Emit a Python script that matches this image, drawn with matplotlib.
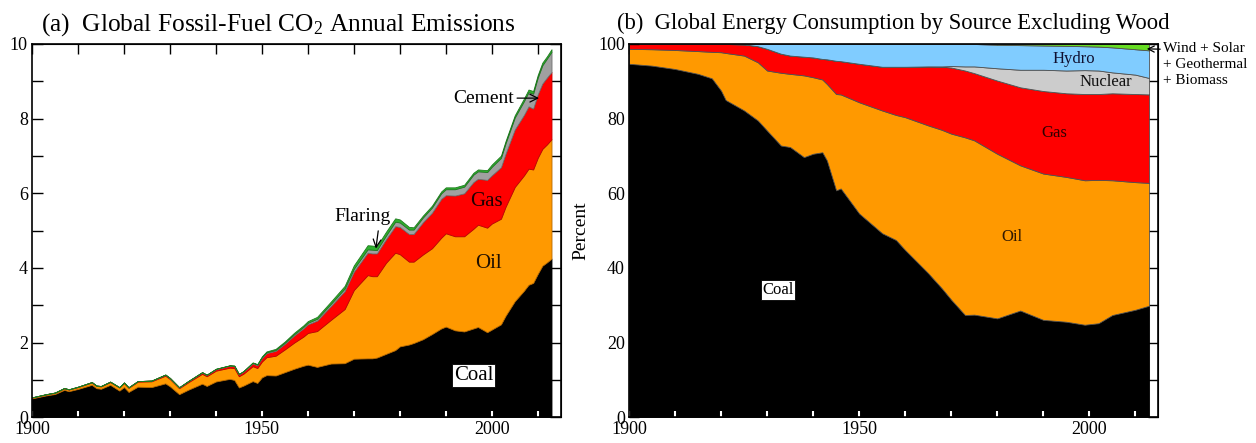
import numpy as np
import matplotlib
matplotlib.use("Agg")
import matplotlib.pyplot as plt
from matplotlib.ticker import MultipleLocator, NullFormatter

plt.rcParams['font.family'] = ['Liberation Serif', 'DejaVu Serif']
plt.rcParams['mathtext.fontset'] = 'custom'
plt.rcParams['mathtext.rm'] = 'Liberation Serif'
plt.rcParams['mathtext.it'] = 'Liberation Serif:italic'

# ---- panel (a): fossil-fuel CO2 emissions (GtC / yr)
years_a = [1900, 1903, 1905, 1907, 1908, 1910, 1913, 1914, 1915, 1917, 1919, 1920,
           1921, 1923, 1926, 1929, 1930, 1932, 1934, 1937, 1938, 1940, 1943, 1944,
           1945, 1946, 1948, 1949, 1950, 1951, 1953, 1955, 1957, 1959, 1960, 1962,
           1965, 1968, 1970, 1973, 1974, 1975, 1977, 1979, 1980, 1982, 1983, 1985,
           1987, 1989, 1990, 1992, 1994, 1996, 1997, 1999, 2000, 2002, 2003, 2005,
           2007, 2008, 2009, 2010, 2011, 2012, 2013]
coal_a = [0.507, 0.585, 0.625, 0.735, 0.700, 0.760, 0.870, 0.780, 0.765, 0.870, 0.715, 0.810,
          0.680, 0.820, 0.810, 0.910, 0.830, 0.620, 0.740, 0.900, 0.840, 0.960, 1.030, 1.000,
          0.800, 0.850, 0.970, 0.920, 1.070, 1.130, 1.120, 1.210, 1.300, 1.380, 1.410, 1.350,
          1.440, 1.450, 1.570, 1.580, 1.580, 1.600, 1.700, 1.800, 1.900, 1.950, 1.990, 2.090,
          2.230, 2.380, 2.430, 2.330, 2.300, 2.380, 2.420, 2.280, 2.350, 2.490, 2.720, 3.110,
          3.390, 3.550, 3.600, 3.840, 4.060, 4.150, 4.250]
oil_a = [0.024, 0.028, 0.033, 0.042, 0.043, 0.050, 0.062, 0.060, 0.062, 0.073, 0.080, 0.108,
         0.110, 0.135, 0.155, 0.205, 0.195, 0.160, 0.200, 0.265, 0.260, 0.290, 0.300, 0.320,
         0.300, 0.320, 0.400, 0.400, 0.423, 0.480, 0.530, 0.610, 0.700, 0.780, 0.850, 0.960,
         1.170, 1.450, 1.840, 2.230, 2.200, 2.180, 2.440, 2.610, 2.470, 2.220, 2.180, 2.270,
         2.300, 2.430, 2.500, 2.520, 2.550, 2.670, 2.740, 2.800, 2.840, 2.830, 2.920, 3.060,
         3.090, 3.110, 3.040, 3.110, 3.130, 3.160, 3.200]
gas_a = [0.003, 0.004, 0.005, 0.007, 0.007, 0.009, 0.011, 0.010, 0.011, 0.012, 0.011, 0.014,
         0.013, 0.015, 0.018, 0.025, 0.024, 0.020, 0.027, 0.036, 0.034, 0.040, 0.050, 0.053,
         0.052, 0.056, 0.075, 0.075, 0.097, 0.110, 0.130, 0.150, 0.190, 0.220, 0.230, 0.280,
         0.370, 0.480, 0.490, 0.600, 0.610, 0.610, 0.630, 0.710, 0.730, 0.740, 0.740, 0.860,
         0.950, 1.040, 1.020, 1.090, 1.150, 1.250, 1.230, 1.280, 1.290, 1.380, 1.420, 1.540,
         1.620, 1.670, 1.630, 1.700, 1.750, 1.790, 1.800]
cement_a = [0, 0, 0, 0, 0, 0, 0, 0, 0, 0, 0, 0,
            0, 0, 0, 0.005, 0.004, 0.005, 0.006, 0.008, 0.008, 0.009, 0.011, 0.010,
            0.008, 0.012, 0.016, 0.016, 0.018, 0.020, 0.024, 0.030, 0.035, 0.040, 0.043, 0.050,
            0.060, 0.070, 0.080, 0.090, 0.100, 0.090, 0.100, 0.120, 0.120, 0.120, 0.120, 0.130,
            0.140, 0.150, 0.160, 0.170, 0.180, 0.200, 0.200, 0.210, 0.230, 0.250, 0.280, 0.320,
            0.370, 0.380, 0.400, 0.450, 0.490, 0.510, 0.540]
flaring_a = [0, 0, 0, 0, 0, 0, 0, 0, 0, 0, 0, 0,
             0, 0, 0, 0, 0, 0, 0, 0, 0, 0, 0, 0,
             0, 0, 0.010, 0.015, 0.023, 0.025, 0.030, 0.033, 0.038, 0.040, 0.045, 0.050,
             0.060, 0.070, 0.090, 0.110, 0.110, 0.100, 0.100, 0.090, 0.080, 0.070, 0.060, 0.050,
             0.050, 0.050, 0.050, 0.050, 0.050, 0.050, 0.050, 0.050, 0.060, 0.060, 0.060, 0.060,
             0.070, 0.070, 0.070, 0.070, 0.070, 0.060, 0.070]

# ---- panel (b): energy consumption shares (percent)
years_b = [1900, 1905, 1910, 1915, 1918, 1920, 1921, 1925, 1928, 1930, 1933, 1935,
           1938, 1940, 1942, 1943, 1945, 1946, 1950, 1955, 1958, 1960, 1965, 1968,
           1970, 1973, 1975, 1980, 1985, 1990, 1995, 1999, 2002, 2005, 2010, 2013]
coal_b = [94.7, 94.2, 93.3, 92.0, 90.8, 87.5, 85.0, 82.2, 79.5, 76.8, 72.8, 72.4,
          69.7, 70.6, 71.0, 68.8, 60.8, 61.3, 54.6, 49.3, 47.5, 44.8, 38.6, 34.5,
          31.5, 27.4, 27.5, 26.5, 28.6, 26.1, 25.6, 24.8, 25.2, 27.4, 28.8, 29.9]
oil_b = [4.0, 4.4, 5.1, 6.1, 7.1, 10.3, 12.6, 14.7, 15.6, 16.1, 19.5, 19.6,
         21.9, 20.5, 19.5, 20.5, 25.8, 25.2, 29.8, 32.9, 33.5, 35.6, 39.6, 42.5,
         44.5, 47.6, 46.7, 44.1, 38.9, 39.2, 38.8, 38.7, 38.4, 36.1, 34.2, 32.9]
gas_b = [1.3, 1.4, 1.6, 1.9, 2.1, 2.2, 2.4, 3.0, 4.3, 5.8, 5.1, 4.9,
         5.0, 5.3, 5.5, 6.6, 8.9, 8.9, 10.3, 11.7, 12.9, 13.5, 15.8, 16.9,
         17.7, 17.9, 18.0, 19.6, 20.9, 22.1, 22.4, 23.1, 23.0, 23.3, 23.6, 23.7]
nuclear_b = [0, 0, 0, 0, 0, 0, 0, 0, 0, 0, 0, 0,
             0, 0, 0, 0, 0, 0, 0, 0, 0, 0, 0, 0.1,
             0.4, 1.1, 1.8, 3.3, 4.7, 5.7, 6.1, 6.4, 6.3, 5.6, 5.2, 4.4]
hydro_b = [0, 0, 0, 0, 0, 0, 0, 0.1, 0.6, 1.3, 2.6, 3.1,
           3.4, 3.6, 4.0, 4.1, 4.5, 4.6, 5.3, 6.1, 6.1, 6.1, 6.0, 6.0,
           5.9, 6.0, 6.0, 6.3, 6.6, 6.5, 6.6, 6.4, 6.4, 6.7, 6.8, 7.4]
other_b = [0, 0, 0, 0, 0, 0, 0, 0, 0, 0, 0, 0,
           0, 0, 0, 0, 0, 0, 0, 0, 0, 0, 0, 0,
           0, 0, 0, 0.2, 0.3, 0.4, 0.5, 0.6, 0.7, 0.9, 1.4, 1.7]

colors_a = ['#000000', '#FF9900', '#FF0000', '#A0A0A0', '#2DB02D']
edges_a = ['#000000', '#B86A00', '#C00000', '#707070', '#1F7A1F']
colors_b = ['#000000', '#FF9900', '#FF0000', '#CCCCCC', '#80CCFF', '#66DD22']

fig = plt.figure(figsize=(12.56, 4.43), dpi=100)
W, H = 1256.0, 443.0
ax1 = fig.add_axes([32 / W, 1 - 417.3 / H, 528.7 / W, 373.3 / H])
ax2 = fig.add_axes([629 / W, 1 - 417.3 / H, 529.3 / W, 373.3 / H])


def style_axes(ax, ymax, ymajor, yminor, ylen):
    ax.set_xlim(1900, 2015)
    ax.set_ylim(0, ymax)
    for s in ax.spines.values():
        s.set_linewidth(1.2)
    ax.xaxis.set_major_locator(MultipleLocator(50))
    ax.xaxis.set_minor_locator(MultipleLocator(10))
    ax.yaxis.set_major_locator(MultipleLocator(ymajor))
    ax.yaxis.set_minor_locator(MultipleLocator(yminor))
    ax.tick_params(axis='x', which='both', direction='in', length=4, width=1.5,
                   color='white', labelsize=13, pad=3)
    ax.tick_params(axis='y', which='both', direction='in', length=ylen, width=1,
                   labelsize=13, pad=3)
    top = ax.secondary_xaxis('top')
    top.xaxis.set_major_locator(MultipleLocator(10))
    top.xaxis.set_major_formatter(NullFormatter())
    top.tick_params(direction='in', length=7, width=1)
    right = ax.secondary_yaxis('right')
    right.yaxis.set_major_locator(MultipleLocator(yminor))
    right.yaxis.set_major_formatter(NullFormatter())
    right.tick_params(direction='in', length=ylen, width=1)


# ---- (a)
polys = ax1.stackplot(years_a, coal_a, oil_a, gas_a, cement_a, flaring_a,
                      colors=colors_a, linewidth=0.6)
for p, ec in zip(polys, edges_a):
    p.set_edgecolor(ec)
style_axes(ax1, 10, 2, 1, 8)
ax1.set_title('(a)  Global Fossil-Fuel CO$_2$ Annual Emissions', fontsize=18.3,
              pad=10, x=0.465)

ax1.annotate('Cement', xy=(2010.3, 8.55), xytext=(1998.3, 8.55), fontsize=14,
             ha='center', va='center',
             arrowprops=dict(arrowstyle='->', color='black', lw=0.9, shrinkA=0, shrinkB=0))
ax1.annotate('Flaring', xy=(1974.8, 4.52), xytext=(1971.8, 5.37), fontsize=14,
             ha='center', va='center',
             arrowprops=dict(arrowstyle='->', color='black', lw=0.9, shrinkA=2, shrinkB=0,
                             connectionstyle='arc3,rad=0', relpos=(0.8, 0.0)))
ax1.text(1998.8, 5.78, 'Gas', fontsize=15, ha='center', va='center', color='#200000')
ax1.text(1999.2, 4.12, 'Oil', fontsize=15, ha='center', va='center', color='#201000')
ax1.text(1996.0, 1.12, 'Coal', fontsize=15, ha='center', va='center',
         bbox=dict(boxstyle='square,pad=0.1', fc='white', ec='black', lw=0.6))

# ---- (b)
polys = ax2.stackplot(years_b, coal_b, oil_b, gas_b, nuclear_b, hydro_b, other_b,
                      colors=colors_b, linewidth=0.6, edgecolor='#505050')
polys[0].set_edgecolor('black')
style_axes(ax2, 100, 20, 10, 7)
ax2.set_title('(b)  Global Energy Consumption by Source Excluding Wood', fontsize=16.3,
              pad=11)
ax2.set_ylabel('Percent', fontsize=14, labelpad=6)

ax2.text(1996.6, 96.0, 'Hydro', fontsize=12, ha='center', va='center', color='#101030')
ax2.text(2003.7, 89.8, 'Nuclear', fontsize=12, ha='center', va='center', color='#101010')
ax2.text(1992.5, 76.1, 'Gas', fontsize=12, ha='center', va='center', color='#300000')
ax2.text(1983.1, 48.4, 'Oil', fontsize=12, ha='center', va='center', color='#301800')
ax2.text(1932.4, 34.1, 'Coal', fontsize=12, ha='center', va='center',
         bbox=dict(boxstyle='square,pad=0.1', fc='white', ec='black', lw=0.6))
ax2.annotate('Wind + Solar\n+ Geothermal\n+ Biomass', xy=(2012.5, 98.7),
             xytext=(1163 / W, 1 - 65 / H), textcoords='figure fraction',
             fontsize=11, ha='left', va='center', linespacing=1.3,
             annotation_clip=False,
             arrowprops=dict(arrowstyle='->', color='black', lw=0.9, shrinkA=0, shrinkB=0,
                             relpos=(0.0, 0.85)))

fig.savefig('out.png', dpi=100)
